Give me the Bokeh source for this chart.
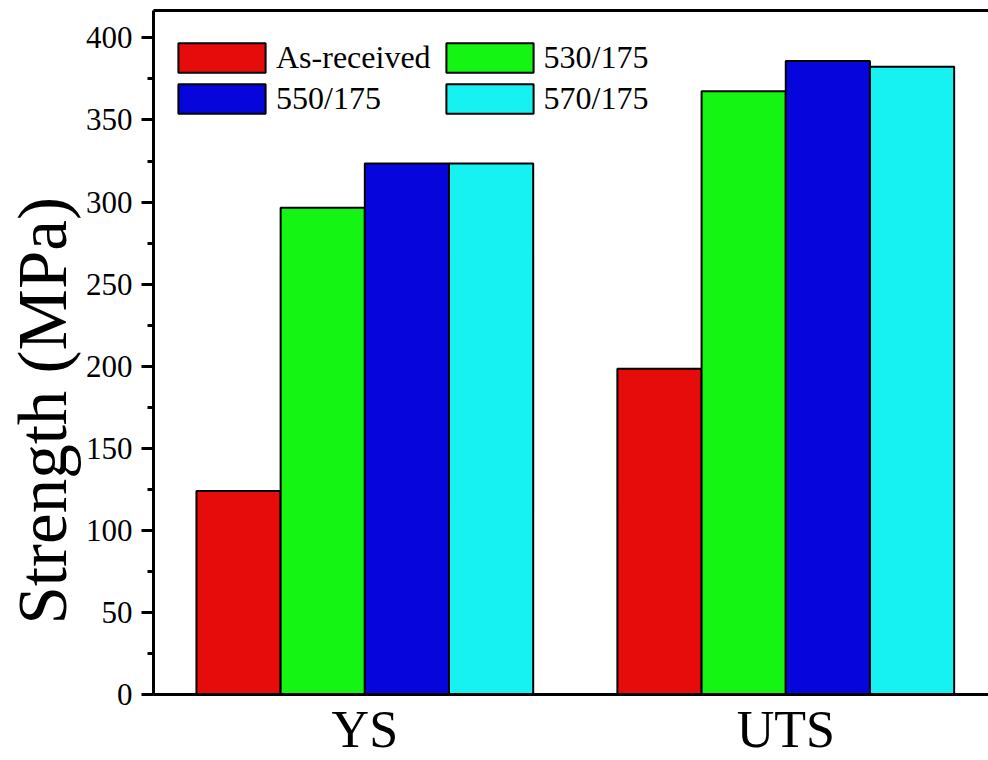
from bokeh.plotting import figure
from bokeh.models import (ColumnDataSource, Range1d, SingleIntervalTicker, FixedTicker,
                          LinearAxis, Legend, LegendItem, Title)
from bokeh.embed import file_html
from bokeh.resources import INLINE

categories = ["YS", "UTS"]
series_names = ["As-received", "530/175", "550/175", "570/175"]
as_received = [124, 198.5]
t530 = [296.5, 367.5]
t550 = [323.5, 386]
t570 = [323.5, 382.5]
colors = ["#E60C0C", "#14F514", "#0505DC", "#16F2F2"]
y_ticks_interval = 50

FONT = "Liberation Serif"

p = figure(width=988, height=760, output_backend="svg", toolbar_location=None,
           x_range=Range1d(0.498, 2.4816), y_range=Range1d(0, 416.7),
           min_border_left=0, min_border_right=0, min_border_top=10, min_border_bottom=64,
           x_axis_location="below")
p.outline_line_color = None
p.grid.visible = False
p.background_fill_color = "white"
p.border_fill_color = "white"

offsets = [-0.3, -0.1, 0.1, 0.3]
all_series = [as_received, t530, t550, t570]
renderers = []
for name, vals, col, off in zip(series_names, all_series, colors, offsets):
    xs = [i + 1 + off for i in range(len(categories))]
    src = ColumnDataSource(dict(x=xs, top=vals))
    r = p.vbar(x="x", top="top", bottom=0, width=0.2, source=src,
               fill_color=col, line_color="black", line_width=2)
    renderers.append(r)

# x axis
xa = p.xaxis[0]
xa.ticker = FixedTicker(ticks=[i + 1 for i in range(len(categories))])
xa.major_label_overrides = {i + 1: c for i, c in enumerate(categories)}
xa.major_tick_line_color = None
xa.minor_tick_line_color = None
xa.major_tick_in = 0
xa.major_tick_out = 0
xa.minor_tick_in = 0
xa.minor_tick_out = 0
xa.axis_line_width = 3
xa.axis_line_color = "black"
xa.major_label_text_font = FONT
xa.major_label_text_font_size = "52px"
xa.major_label_text_color = "black"
xa.major_label_standoff = 6

# y axis
ya = p.yaxis[0]
ya.ticker = SingleIntervalTicker(interval=y_ticks_interval, num_minor_ticks=2)
ya.axis_line_width = 3
ya.axis_line_color = "black"
ya.major_tick_in = 0
ya.major_tick_out = 12
ya.minor_tick_in = 0
ya.minor_tick_out = 6
ya.major_tick_line_width = 3
ya.minor_tick_line_width = 3
ya.major_tick_line_color = "black"
ya.minor_tick_line_color = "black"
ya.major_label_text_font = FONT
ya.major_label_text_font_size = "31px"
ya.major_label_text_color = "black"
ya.major_label_standoff = 9

# top border line
top_axis = LinearAxis(ticker=FixedTicker(ticks=[]), axis_line_width=3, axis_line_color="black",
                      major_tick_line_color=None, minor_tick_line_color=None,
                      major_tick_in=0, major_tick_out=0, minor_tick_in=0, minor_tick_out=0,
                      major_label_text_font_size="0px")
p.add_layout(top_axis, "above")

# y label as left title
ttl = Title(text="Strength (MPa)", align="left", offset=70,
            text_font=FONT, text_font_size="69px", text_font_style="normal",
            text_color="black", standoff=4)
p.add_layout(ttl, "left")

# legend
order = [0, 2, 1, 3]
items = [LegendItem(label=series_names[i], renderers=[renderers[i]]) for i in order]
legend = Legend(items=items, location=(14, 577), ncols=2, orientation="vertical",
                glyph_width=109, glyph_height=37, label_height=37,
                label_text_font=FONT, label_text_font_size="32px", label_text_color="black",
                label_standoff=0, spacing=4, padding=0, margin=0,
                border_line_color=None, background_fill_alpha=0)
p.add_layout(legend)

open("out.html", "w").write(file_html(p, INLINE))
